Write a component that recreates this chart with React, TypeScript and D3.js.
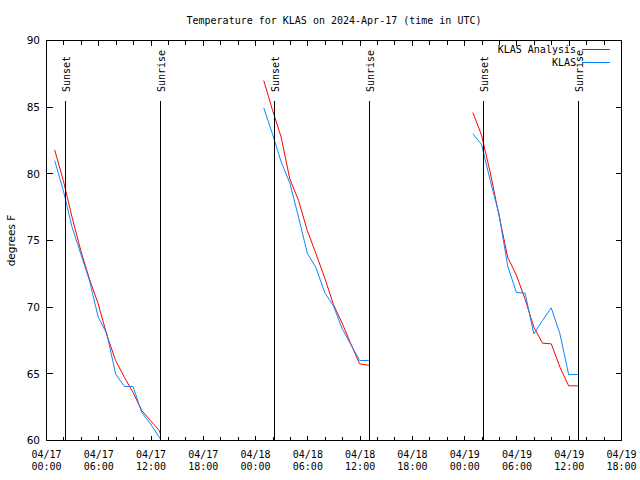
import React from "react";
import * as d3 from "d3";

const W = 640;
const H = 480;

const titleText = "Temperature for KLAS on 2024-Apr-17 (time in UTC)";
const yLabelText = "degrees F";
const seriesNames = ["KLAS Analysis", "KLAS"];
const seriesColors = ["#ff0000", "#0a88ff"];

const xDomain = ["2024-04-17T00:00:00Z", "2024-04-19T18:00:00Z"];
const yDomain = [60, 90];
const yTicks = [60, 65, 70, 75, 80, 85, 90];

const night1Times = [
  "2024-04-17T00:56:00Z", "2024-04-17T01:56:00Z", "2024-04-17T02:56:00Z", "2024-04-17T03:56:00Z",
  "2024-04-17T04:56:00Z", "2024-04-17T05:56:00Z", "2024-04-17T06:56:00Z", "2024-04-17T07:56:00Z",
  "2024-04-17T08:56:00Z", "2024-04-17T09:56:00Z", "2024-04-17T10:56:00Z", "2024-04-17T11:56:00Z",
  "2024-04-17T12:56:00Z", "2024-04-17T13:05:00Z",
];
const night1Analysis = [81.8, 79.5, 76.75, 74.25, 72.1, 70.25, 67.9, 66.0, 64.75, 63.6, 62.25, 61.5, 60.75, 60.5];
const night1Obs = [81.0, 78.75, 76.0, 74.0, 72.0, 69.25, 68.0, 65.0, 64.05, 64.05, 62.1, 61.25, 60.25, 60.1];

const night2Times = [
  "2024-04-18T00:56:00Z", "2024-04-18T01:56:00Z", "2024-04-18T02:56:00Z", "2024-04-18T03:56:00Z",
  "2024-04-18T04:56:00Z", "2024-04-18T05:56:00Z", "2024-04-18T06:56:00Z", "2024-04-18T07:56:00Z",
  "2024-04-18T08:56:00Z", "2024-04-18T09:56:00Z", "2024-04-18T10:56:00Z", "2024-04-18T11:56:00Z",
  "2024-04-18T12:56:00Z", "2024-04-18T13:05:00Z",
];
const night2Analysis = [87.0, 84.8, 82.75, 79.6, 78.0, 75.75, 74.0, 72.2, 70.2, 68.8, 67.25, 65.75, 65.65, 65.65];
const night2Obs = [84.95, 83.0, 80.9, 79.3, 76.75, 74.05, 72.95, 71.1, 70.1, 68.4, 67.2, 66.0, 66.0, 66.0];

const night3Times = [
  "2024-04-19T00:56:00Z", "2024-04-19T01:56:00Z", "2024-04-19T02:56:00Z", "2024-04-19T03:56:00Z",
  "2024-04-19T04:56:00Z", "2024-04-19T05:56:00Z", "2024-04-19T06:56:00Z", "2024-04-19T07:56:00Z",
  "2024-04-19T08:56:00Z", "2024-04-19T09:56:00Z", "2024-04-19T10:56:00Z", "2024-04-19T11:56:00Z",
  "2024-04-19T12:56:00Z", "2024-04-19T13:04:00Z",
];
const night3Analysis = [84.6, 82.9, 80.1, 76.9, 73.75, 72.4, 70.6, 68.5, 67.3, 67.25, 65.5, 64.1, 64.1, 64.1];
const night3Obs = [83.0, 82.2, 79.5, 77.0, 73.1, 71.1, 71.05, 68.0, 69.0, 69.95, 68.0, 64.95, 64.95, 64.95];

const sunsets = ["2024-04-17T02:08:00Z", "2024-04-18T02:09:00Z", "2024-04-19T02:10:00Z"];
const sunrises = ["2024-04-17T13:05:00Z", "2024-04-18T13:04:00Z", "2024-04-19T13:03:00Z"];

const nights = [
  { times: night1Times, analysis: night1Analysis, obs: night1Obs },
  { times: night2Times, analysis: night2Analysis, obs: night2Obs },
  { times: night3Times, analysis: night3Analysis, obs: night3Obs },
];

const L = 46.5;
const R = 621.5;
const T = 40.5;
const B = 440.5;

const MONO = "'DejaVu Sans Mono', monospace";
const SANS = "'DejaVu Sans', sans-serif";

export default function App() {
  const x = d3.scaleUtc().domain(xDomain.map((s) => new Date(s))).range([L, R]);
  const y = d3.scaleLinear().domain(yDomain).range([B, T]);

  const majorTicks = x.ticks(d3.utcHour.every(6)!);
  const minorTicks = x.ticks(d3.utcHour.every(2)!);
  const fmtDate = d3.utcFormat("%m/%d");
  const fmtTime = d3.utcFormat("%H:%M");

  const line = d3
    .line<[Date, number]>()
    .x((d) => x(d[0]))
    .y((d) => y(d[1]));

  const paths = (key: "analysis" | "obs") =>
    nights.map((n) =>
      line(n.times.map((t, i) => [new Date(t), n[key][i]] as [Date, number]))
    );

  const markerLines = [
    ...sunsets.map((t) => ({ t, label: "Sunset" })),
    ...sunrises.map((t) => ({ t, label: "Sunrise" })),
  ];

  const lineTop = y(yDomain[0] + 0.85 * (yDomain[1] - yDomain[0]));

  return (
    <svg
      width={W}
      height={H}
      style={{ position: "fixed", left: 0, top: 0, background: "#fff" }}
    >
      <rect x={0} y={0} width={W} height={H} fill="#fff" />
      <text x={(L + R) / 2} y={23.5} textAnchor="middle" fontFamily={MONO} fontSize={10} fill="#000">
        {titleText}
      </text>

      {/* data */}
      {paths("analysis").map((d, i) => (
        <path key={"a" + i} d={d || ""} fill="none" stroke={seriesColors[0]} strokeWidth={1} />
      ))}
      {paths("obs").map((d, i) => (
        <path key={"o" + i} d={d || ""} fill="none" stroke={seriesColors[1]} strokeWidth={1} />
      ))}

      {/* ticks */}
      <g shapeRendering="crispEdges" stroke="#000" strokeWidth={1}>
        {minorTicks.map((t, i) => {
          const xx = Math.round(x(t) - 0.5) + 0.5;
          return (
            <g key={"mt" + i}>
              <line x1={xx} x2={xx} y1={B} y2={B - 4} />
              <line x1={xx} x2={xx} y1={T} y2={T + 4} />
            </g>
          );
        })}
        {majorTicks.map((t, i) => {
          const xx = Math.round(x(t) - 0.5) + 0.5;
          return (
            <g key={"Mt" + i}>
              <line x1={xx} x2={xx} y1={B} y2={B - 5} />
              <line x1={xx} x2={xx} y1={T} y2={T + 5} />
            </g>
          );
        })}
        {yTicks.map((v, i) => {
          const yy = Math.round(y(v) - 0.5) + 0.5;
          return (
            <g key={"yt" + i}>
              <line x1={L} x2={L + 6} y1={yy} y2={yy} />
              <line x1={R} x2={R - 6} y1={yy} y2={yy} />
            </g>
          );
        })}
      </g>

      {/* sunrise / sunset markers */}
      {markerLines.map((m, i) => {
        const xx = Math.round(x(new Date(m.t)) - 0.5) + 0.5;
        return (
          <g key={"m" + i}>
            <line
              x1={xx}
              x2={xx}
              y1={B}
              y2={lineTop}
              stroke="#000"
              strokeWidth={1}
              shapeRendering="crispEdges"
            />
            <text
              transform={`translate(${xx + 4},92) rotate(-90)`}
              fontFamily={MONO}
              fontSize={10}
              fill="#000"
            >
              {m.label}
            </text>
          </g>
        );
      })}

      {/* border */}
      <rect
        x={L}
        y={T}
        width={R - L}
        height={B - T}
        fill="none"
        stroke="#000"
        strokeWidth={1}
        shapeRendering="crispEdges"
      />

      {/* x tick labels */}
      {majorTicks.map((t, i) => (
        <g key={"xl" + i} fontFamily={MONO} fontSize={10} fill="#000">
          <text x={x(t)} y={457.5} textAnchor="middle">
            {fmtDate(t)}
          </text>
          <text x={x(t)} y={470} textAnchor="middle">
            {fmtTime(t)}
          </text>
        </g>
      ))}

      {/* y tick labels */}
      {yTicks.map((v, i) => (
        <text
          key={"yl" + i}
          x={40}
          y={y(v) + 3.8}
          textAnchor="end"
          fontFamily={SANS}
          fontSize={10.5}
          fill="#000"
        >
          {v}
        </text>
      ))}

      <text
        transform={`translate(15,${(T + B) / 2}) rotate(-90)`}
        textAnchor="middle"
        fontFamily={SANS}
        fontSize={10.5}
        fill="#000"
      >
        {yLabelText}
      </text>

      {/* legend */}
      {seriesNames.map((name, i) => {
        const ly = 49.5 + i * 13;
        return (
          <g key={"lg" + i}>
            <text x={576} y={ly + 3.5} textAnchor="end" fontFamily={MONO} fontSize={10} fill="#000">
              {name}
            </text>
            <line x1={582} x2={610} y1={ly} y2={ly} stroke={seriesColors[i]} strokeWidth={1} shapeRendering="crispEdges" />
          </g>
        );
      })}
    </svg>
  );
}
